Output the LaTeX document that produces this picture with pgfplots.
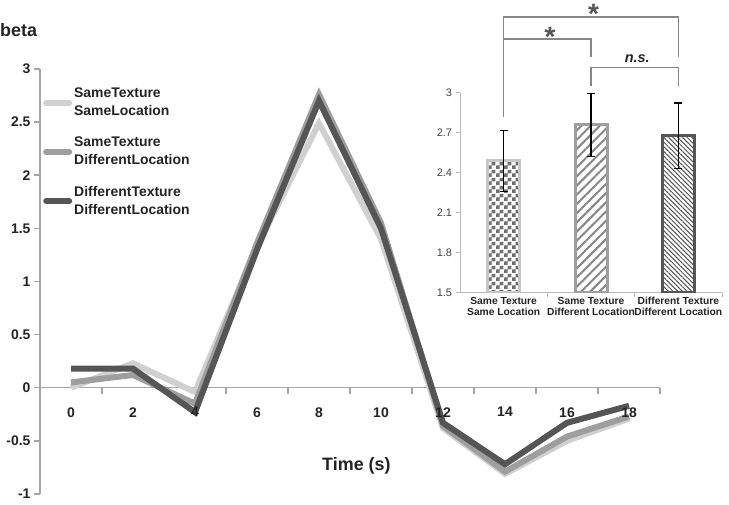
\documentclass[border=0pt]{standalone}
\usepackage{fontspec}
\setmainfont{Liberation Sans}
\usepackage{pgfplots}
\pgfplotsset{compat=1.18}
\usetikzlibrary{patterns,patterns.meta}
\definecolor{cLight}{RGB}{208,208,208}
\definecolor{cMid}{RGB}{158,158,158}
\definecolor{cDark}{RGB}{85,85,85}
\definecolor{axisgray}{RGB}{165,165,165}
\definecolor{txt}{RGB}{35,35,35}
\definecolor{brk}{RGB}{135,135,135}

\pgfdeclarepatternformonly{mychecker}{\pgfpointorigin}{\pgfpoint{8bp}{8bp}}{\pgfpoint{8bp}{8bp}}{%
  \pgfpathrectangle{\pgfpointorigin}{\pgfpoint{4bp}{4bp}}%
  \pgfpathrectangle{\pgfpoint{4bp}{4bp}}{\pgfpoint{4bp}{4bp}}%
  \pgfusepath{fill}%
}

\pgfplotsset{
  mainbox/.style={
    at={(40bp,11bp)}, anchor=south west,
    scale only axis, width=620bp, height=425bp,
    xmin=-1, xmax=19, ymin=-1, ymax=3,
  },
}

\begin{document}
\begin{tikzpicture}
\useasboundingbox (0,0) rectangle (729bp,505bp);

% ---------------- main time-course axis ----------------
\begin{axis}[
  mainbox,
  axis x line=middle, axis y line=left,
  axis line style={draw=axisgray, line width=1.5bp, -},
  hide obscured x ticks=false, hide obscured y ticks=false,
  /pgf/number format/assume math mode=true,
  xtick={1,3,...,19},
  xticklabels={},
  ytick={-1,-0.5,0,0.5,1,1.5,2,2.5,3},
  yticklabels={-1,-0.5,0,0.5,1,1.5,2,2.5,3},
  tick align=outside,
  tick style={draw=axisgray, line width=1.5bp},
  major tick length=6bp,
  tick label style={font=\fontsize{14}{16}\selectfont\bfseries, text=txt},
  legend cell align=left,
  legend style={draw=none, fill=none, cells={align=left},
    font=\fontsize{14}{18}\selectfont\bfseries, text=txt,
    at={(0.0,0.965)}, anchor=north west, row sep=16bp},
  legend image code/.code={\draw[#1, line cap=round] (0bp,0bp) -- (23bp,0bp);},
  clip=false,
]
\addplot[cLight, line width=6bp] coordinates {(0,0.0) (2,0.23) (4,-0.04) (6,1.33) (8,2.49) (10,1.40) (12,-0.38) (14,-0.81) (16,-0.50) (18,-0.29)};
\addlegendentry{SameTexture\\SameLocation}
\addplot[cMid, line width=6bp] coordinates {(0,0.05) (2,0.12) (4,-0.15) (6,1.36) (8,2.76) (10,1.55) (12,-0.36) (14,-0.79) (16,-0.46) (18,-0.27)};
\addlegendentry{SameTexture\\DifferentLocation}
\addplot[cDark, line width=6bp] coordinates {(0,0.18) (2,0.18) (4,-0.23) (6,1.30) (8,2.70) (10,1.50) (12,-0.33) (14,-0.72) (16,-0.33) (18,-0.17)};
\addlegendentry{DifferentTexture\\DifferentLocation}
\end{axis}

% x tick labels drawn on top of the lines
\begin{axis}[
  mainbox,
  axis x line=middle, axis y line=none,
  x axis line style={draw=none, -},
  hide obscured x ticks=false,
  /pgf/number format/assume math mode=true,
  xtick={0,2,...,18},
  xticklabels={0,2,4,6,8,10,12,14,16,18},
  major tick length=0pt,
  x tick style={draw=none},
  xticklabel style={font=\fontsize{14}{16}\selectfont\bfseries, text=txt, yshift=-16bp},
]
\end{axis}

\node[anchor=base west, inner sep=0, font=\fontsize{18}{20}\selectfont\bfseries, text=txt] at (0bp,468bp) {beta};
\node[anchor=base west, inner sep=0, font=\fontsize{18}{20}\selectfont\bfseries, text=txt] at (322bp,35bp) {Time (s)};

% ---------------- inset bar chart ----------------
\begin{axis}[
  at={(460bp,212bp)}, anchor=south west,
  scale only axis, width=262bp, height=200bp,
  xmin=-0.5, xmax=2.5, ymin=1.5, ymax=3,
  axis x line=bottom, axis y line=left,
  axis line style={draw=gray!55, line width=1bp, -},
  /pgf/number format/assume math mode=true,
  ytick={1.5,1.8,2.1,2.4,2.7,3},
  yticklabels={1.5,1.8,2.1,2.4,2.7,3},
  xtick={0.5,1.5,2.5},
  xticklabels={},
  tick align=outside,
  tick style={draw=gray!55, line width=1bp},
  major tick length=4.5bp,
  extra x ticks={0,1,2},
  extra x tick labels={Same Texture\\Same Location, Same Texture\\Different Location, Different Texture\\Different Location},
  extra x tick style={major tick length=0pt},
  yticklabel style={font=\fontsize{11}{12}\selectfont, text=txt!85},
  xticklabel style={font=\fontsize{10.3}{10.5}\selectfont\bfseries, text=txt, align=center, yshift=-1bp},
  clip mode=individual,
]
\addplot[ybar, bar width=32bp, bar shift=0pt, draw=cLight!95!black, line width=3bp,
  pattern=mychecker, pattern color=cDark!85,
  error bars/.cd, y dir=both, y explicit,
  error bar style={black, line width=1.2bp},
  error mark options={black, rotate=90, mark size=4bp, line width=1.2bp}]
  coordinates {(0,2.49) +- (0,0.23)};
\addplot[ybar, bar width=32bp, bar shift=0pt, draw=cMid, line width=3bp,
  pattern={Lines[angle=45, distance=6.5bp, line width=2bp]}, pattern color=cMid!85!black,
  error bars/.cd, y dir=both, y explicit,
  error bar style={black, line width=1.2bp},
  error mark options={black, rotate=90, mark size=4bp, line width=1.2bp}]
  coordinates {(1,2.76) +- (0,0.235)};
\addplot[ybar, bar width=32bp, bar shift=0pt, draw=cDark, line width=3bp,
  pattern={Lines[angle=-45, distance=3.3bp, line width=1bp]}, pattern color=cDark,
  error bars/.cd, y dir=both, y explicit,
  error bar style={black, line width=1.2bp},
  error mark options={black, rotate=90, mark size=4bp, line width=1.2bp}]
  coordinates {(2,2.68) +- (0,0.245)};

\draw[brk, line width=1.6bp] (axis cs:0,2.82) -- (axis cs:0,3.57) -- (axis cs:2,3.57) -- (axis cs:2,3.27);
\draw[brk, line width=1.6bp] (axis cs:0,3.405) -- (axis cs:1,3.405) -- (axis cs:1,3.27);
\draw[brk, line width=1.6bp] (axis cs:1,3.05) -- (axis cs:1,3.19) -- (axis cs:2,3.19) -- (axis cs:2,3.05);
\node[font=\fontsize{28}{28}\selectfont\bfseries, text=cDark, inner sep=0] at (axis cs:1.03,3.59) {*};
\node[font=\fontsize{28}{28}\selectfont\bfseries, text=cDark, inner sep=0] at (axis cs:0.53,3.42) {*};
\node[font=\fontsize{14.5}{14.5}\selectfont\bfseries\itshape, text=txt, inner sep=0] at (axis cs:1.53,3.255) {n.s.};
\end{axis}
\end{tikzpicture}
\end{document}
